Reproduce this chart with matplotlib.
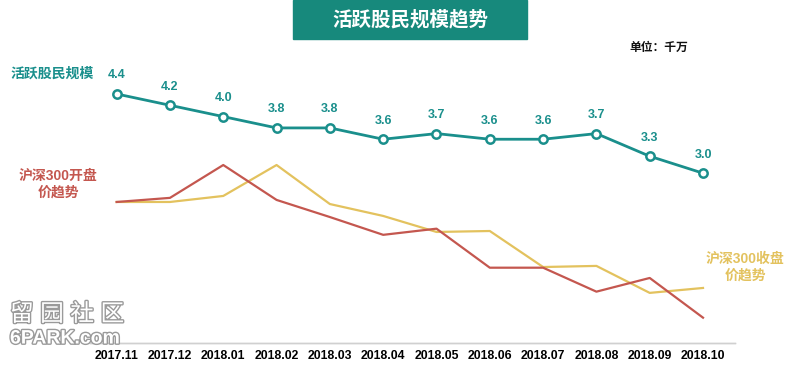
import matplotlib
matplotlib.use('Agg')
import matplotlib.pyplot as plt
import matplotlib.patheffects as pe
from matplotlib.patches import Rectangle

plt.rcParams['font.family'] = ['Liberation Sans', 'Noto Sans CJK SC', 'DejaVu Sans']

# Data
months = ['2017.11', '2017.12', '2018.01', '2018.02', '2018.03', '2018.04',
          '2018.05', '2018.06', '2018.07', '2018.08', '2018.09', '2018.10']
active_investors = [4.4, 4.2, 4.0, 3.8, 3.8, 3.6, 3.7, 3.6, 3.6, 3.7, 3.3, 3.0]  # 千万
hs300_open = [4000, 4030, 4270, 4015, 3890, 3760, 3805, 3520, 3520, 3345, 3445, 3155]
hs300_close = [4000, 4000, 4044, 4270, 3985, 3898, 3781, 3788, 3525, 3533, 3336, 3372]

TEAL = '#1a8f8c'
RED = '#c4574f'
GOLD = '#e3c25e'

W, H = 800, 370
fig = plt.figure(figsize=(W / 100, H / 100), dpi=100)

# axes box in pixels: left 90, right 735, top 60, bottom 343
ax = fig.add_axes([90 / W, 1 - 343 / H, (735 - 90) / W, (343 - 60) / H])
ax2 = ax.twinx()

x = list(range(len(months)))

ax2.plot(x, hs300_close, color=GOLD, lw=1.6, zorder=2)
ax2.plot(x, hs300_open, color=RED, lw=1.6, zorder=3)
ax2.set_ylim(2970, 5037)

ax.set_zorder(ax2.get_zorder() + 1)
ax.patch.set_visible(False)
ax.plot(x, active_investors, color=TEAL, lw=2, marker='o', ms=6,
        mfc='white', mec=TEAL, mew=1.8, zorder=4)
for xi, v in zip(x, active_investors):
    ax.annotate(f'{v:.1f}', (xi, v), xytext=(0, 9), textcoords='offset points',
                ha='center', va='bottom', fontsize=9, fontweight='bold', color=TEAL)

ax.set_ylim(0, 5.0)
ax.set_xlim(-0.5, 11.6)
ax.set_xticks(x)
ax.set_xticklabels(months, fontsize=8.8, fontweight='bold')
ax.tick_params(axis='x', length=0, pad=5)
ax.set_yticks([])
ax2.set_yticks([])
for a in (ax, ax2):
    for side in ('top', 'left', 'right'):
        a.spines[side].set_visible(False)
    a.spines['bottom'].set_color('#d0d0d0')
    a.spines['bottom'].set_linewidth(1)

# title box
fig.patches.append(Rectangle((293 / W, 1 - 39 / H), (527 - 293) / W, 39 / H,
                             transform=fig.transFigure, color='#17897c', zorder=0))
fig.text(410 / W, 1 - 20 / H, '活跃股民规模趋势', ha='center', va='center',
         fontsize=14, fontweight='bold', color='white')

fig.text(659 / W, 1 - 48 / H, '单位：千万', ha='center', va='center',
         fontsize=8.5, fontweight='bold', color='#111111')

fig.text(10 / W, 1 - 74 / H, '活跃股民规模', ha='left', va='center',
         fontsize=10, fontweight='bold', color=TEAL)
fig.text(58 / W, 1 - 184 / H, '沪深300开盘\n价趋势', ha='center', va='center',
         fontsize=10, fontweight='bold', color=RED, linespacing=1.3)
fig.text(745 / W, 1 - 267 / H, '沪深300收盘\n价趋势', ha='center', va='center',
         fontsize=10, fontweight='bold', color=GOLD, linespacing=1.3)

# site watermark
wm = [pe.withStroke(linewidth=2, foreground='#9a9a9a')]
fig.text(10 / W, 1 - 315 / H, '留 园 社 区', ha='left', va='center', fontsize=17,
         color='white', path_effects=wm)
fig.text(10 / W, 1 - 339 / H, '6PARK.com', ha='left', va='center', fontsize=14,
         fontweight='bold', color='white', path_effects=wm)

fig.savefig('out.png', dpi=100, facecolor='white')
